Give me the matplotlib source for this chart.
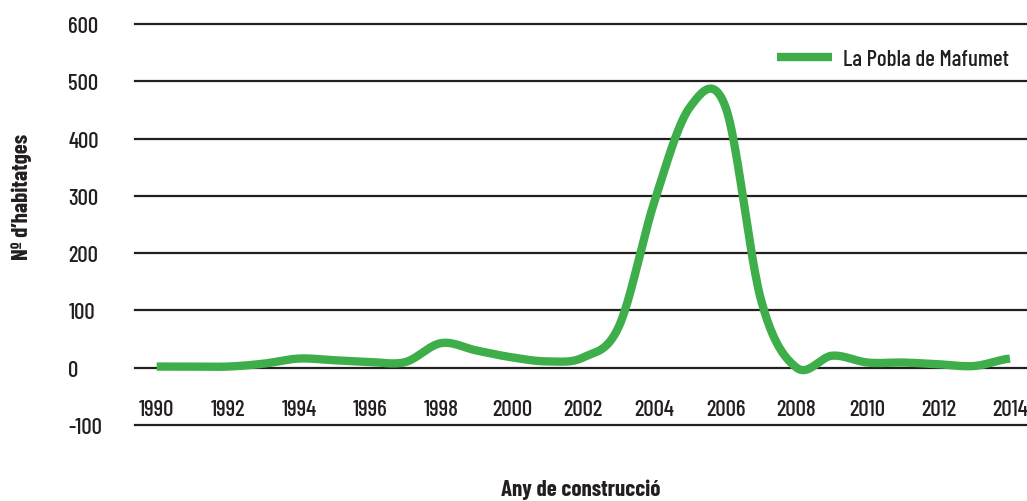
import numpy as np
import matplotlib
matplotlib.use("Agg")
import matplotlib.pyplot as plt
from matplotlib.lines import Line2D

# data
years = list(range(1990, 2015))
habitatges = [2, 2, 2, 7, 16, 13, 10, 10, 43, 30, 18, 11, 18, 72, 290, 455, 455, 118, 0, 21, 9, 9, 6, 3, 16]
series_name = "La Pobla de Mafumet"
y_ticks = [-100, 0, 100, 200, 300, 400, 500, 600]
x_ticks = list(range(1990, 2015, 2))

green = "#3DAE49"
ink = "#231F20"
fam = ["Barlow Condensed", "DejaVu Sans"]
plt.rcParams["font.family"] = fam
plt.rcParams["font.weight"] = 500


def smooth(x, y, n=24):
    # catmull-rom style smoothing, like a spreadsheet "smoothed line"
    x = np.asarray(x, float)
    y = np.asarray(y, float)
    px = np.concatenate([[2 * x[0] - x[1]], x, [2 * x[-1] - x[-2]]])
    py = np.concatenate([[y[0]], y, [y[-1]]])
    xs, ys = [], []
    t = np.linspace(0, 1, n, endpoint=False)
    for i in range(1, len(px) - 2):
        p0, p1, p2, p3 = py[i - 1], py[i], py[i + 1], py[i + 2]
        m1 = (p2 - p0) / 2.0
        m2 = (p3 - p1) / 2.0
        h00 = 2 * t**3 - 3 * t**2 + 1
        h10 = t**3 - 2 * t**2 + t
        h01 = -2 * t**3 + 3 * t**2
        h11 = t**3 - t**2
        xs.append(px[i] + t * (px[i + 1] - px[i]))
        ys.append(h00 * p1 + h10 * m1 + h01 * p2 + h11 * m2)
    xs.append([x[-1]])
    ys.append([y[-1]])
    return np.concatenate(xs), np.concatenate(ys)


fig = plt.figure(figsize=(10.27, 5.02), dpi=100)
ax = fig.add_axes([135 / 1027, 1 - 426 / 502, 1 - 135 / 1027, (426 - 25) / 502])

for v in y_ticks:
    ax.axhline(v, color=ink, lw=1.6, clip_on=False, zorder=1)

sx, sy = smooth(years, habitatges)
ax.plot(sx, sy, color=green, lw=6, solid_capstyle="butt", solid_joinstyle="round", zorder=3)

ax.set_xlim(1989.39, 2014.48)
ax.set_ylim(-100, 600)
for s in ax.spines.values():
    s.set_visible(False)

ax.set_yticks(y_ticks)
ax.set_yticklabels([str(v) for v in y_ticks], ha="left")
ax.tick_params(axis="y", length=0, pad=48, labelsize=16.5, labelcolor=ink)
ax.set_xticks(x_ticks)
ax.set_xticklabels([str(v) for v in x_ticks])
ax.tick_params(axis="x", length=0, pad=-19, labelsize=16.5, labelcolor=ink)

fig.text(581 / 1027, 1 - 490 / 502, "Any de construcció", ha="center", va="center",
         fontsize=16.5, fontweight="bold", color=ink)
fig.text(22 / 1027, 1 - 197 / 502, "Nº d\u2019habitatges", ha="center", va="center",
         rotation=90, fontsize=16.5, fontweight="bold", color=ink)

handle = Line2D([], [], color=green, lw=6, solid_capstyle="butt")
leg = ax.legend([handle], [series_name], loc="center left", frameon=False,
                bbox_to_anchor=(777 / 1027, 1 - 60 / 502), bbox_transform=fig.transFigure,
                borderpad=0, borderaxespad=0, handlelength=2.4, handletextpad=0.5,
                prop={"family": fam, "size": 16.5, "weight": 500})
for t in leg.get_texts():
    t.set_color(ink)

fig.savefig("out.png", dpi=100)
